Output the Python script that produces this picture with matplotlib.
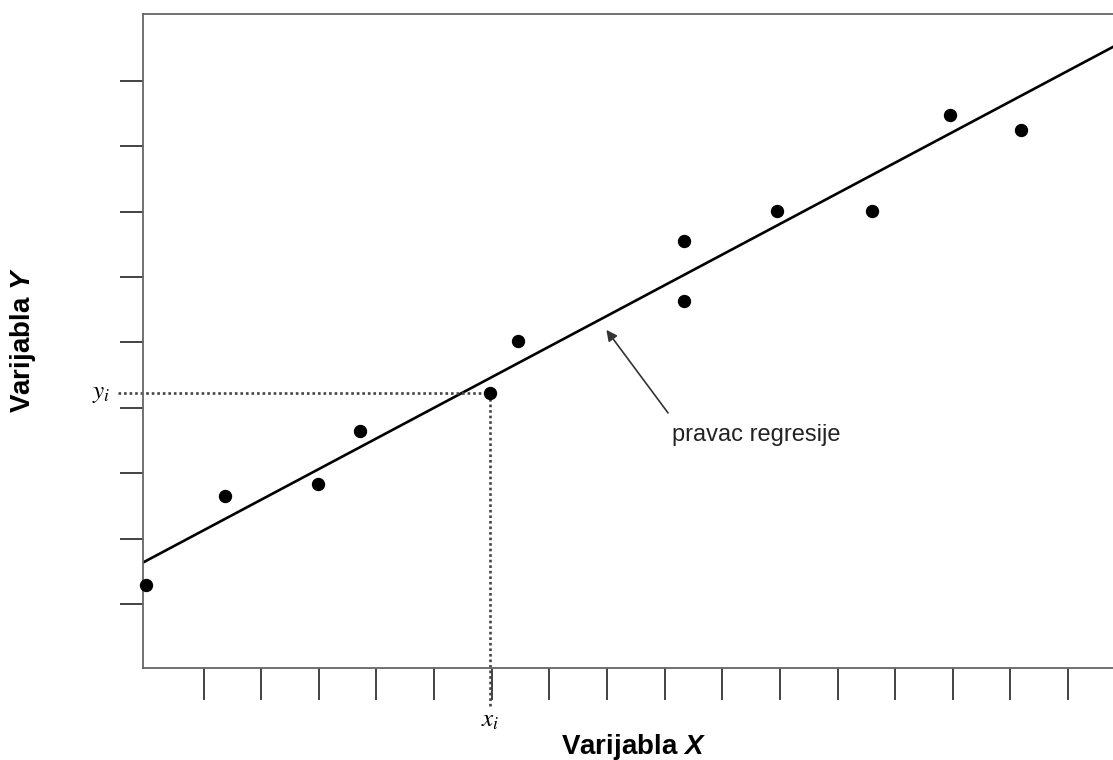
import matplotlib.pyplot as plt

plt.rcParams['font.family'] = ['Liberation Sans', 'DejaVu Sans']
plt.rcParams['mathtext.fontset'] = 'custom'
plt.rcParams['mathtext.rm'] = 'Liberation Sans:bold'
plt.rcParams['mathtext.bf'] = 'Liberation Sans:bold'
plt.rcParams['mathtext.it'] = 'Liberation Sans:bold:italic'

x_obs = [0.0, 1.38, 2.98, 3.71, 5.97, 6.46, 9.34, 9.34, 10.95, 12.60, 13.95, 15.18]
y_obs = [1.29, 2.65, 2.84, 3.65, 4.23, 5.02, 6.55, 5.63, 7.01, 7.01, 8.48, 8.25]

# regression line end points
reg_x = [-0.1, 17.0]
reg_y = [1.61, 9.62]

# highlighted point (x_i, y_i)
xi, yi = 5.97, 4.23

x_ticks = list(range(1, 17))
y_ticks = list(range(1, 10))

fig = plt.figure(figsize=(11.13, 7.6), dpi=100)
ax = fig.add_axes([0.1285, 0.121, 1.0 - 0.1285, 0.9816 - 0.121])

ax.plot(reg_x, reg_y, color='black', lw=1.9, solid_capstyle='butt')
ax.plot(x_obs, y_obs, 'o', color='black', ms=8.6, clip_on=False, zorder=5)

# dotted guides to the axes
ax.plot([-0.49, xi], [yi, yi], color='#444444', lw=1.9, ls=(0, (1, 1.1)), clip_on=False)
ax.plot([xi, xi], [yi, -0.56], color='#444444', lw=1.9, ls=(0, (1, 1.1)), clip_on=False)

ax.text(xi, -0.78, r'$x_i$', math_fontfamily='stix', fontsize=18, ha='center', va='center')
ax.text(-0.78, yi, r'$y_i$', math_fontfamily='stix', fontsize=18, ha='center', va='center')

ax.annotate('', xy=(7.99, 5.19), xytext=(9.06, 3.92),
            arrowprops=dict(arrowstyle='-|>', color='#333333', lw=1.2, mutation_scale=16, shrinkA=0, shrinkB=0))
ax.text(9.13, 3.59, 'pravac regresije', fontsize=17, color='#222222', ha='left', va='center')

ax.set_xlim(-0.05, (1113 - 145.3) / 57.67)
ax.set_ylim(0.02, 10.02)
ax.set_xticks(x_ticks)
ax.set_yticks(y_ticks)
ax.set_xticklabels([])
ax.set_yticklabels([])
ax.tick_params(axis='x', direction='out', length=23, width=1.2, color='#222222')
ax.tick_params(axis='y', direction='out', length=16.5, width=1.2, color='#222222')
for side in ['left', 'bottom', 'top']:
    ax.spines[side].set_color('#666666')
    ax.spines[side].set_linewidth(1.3)
ax.spines['right'].set_visible(False)

fig.text(634 / 1113, 1 - 747 / 760, r'Varijabla $\mathit{X}$', fontsize=20, fontweight='bold',
         ha='center', va='center')
fig.text(23 / 1113, 1 - 340 / 760, r'Varijabla $\mathit{Y}$', fontsize=20, fontweight='bold',
         ha='center', va='center', rotation=90)

fig.savefig('out.png', dpi=100)
